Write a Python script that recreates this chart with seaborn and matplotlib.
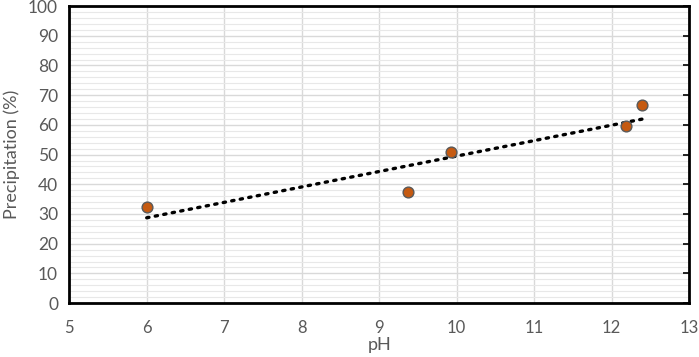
import numpy as np
import pandas as pd
import matplotlib
matplotlib.use("Agg")
import matplotlib.pyplot as plt
import seaborn as sns
from matplotlib.ticker import MultipleLocator

# data
ph = [6.0, 9.37, 9.93, 12.19, 12.39]
precip = [32.3, 37.3, 50.9, 59.6, 66.8]

df = pd.DataFrame({"pH": ph, "Precipitation (%)": precip})

sns.set_style("white")
plt.rcParams["font.family"] = ["Lato", "DejaVu Sans"]

fig = plt.figure(figsize=(6.99, 3.57), dpi=100)
ax = fig.add_axes([0.099, 0.151, 0.887, 0.832])

# linear trendline (dotted)
sns.regplot(data=df, x="pH", y="Precipitation (%)", ax=ax, ci=None, scatter=False,
            line_kws=dict(color="black", lw=2.4, linestyle=(0, (0.7, 1.9)),
                          dash_capstyle="round", zorder=3))
sns.scatterplot(data=df, x="pH", y="Precipitation (%)", ax=ax, s=60,
                color="#C55A11", edgecolor="#595959", linewidth=1.0, zorder=4)

ax.set_xlim(5, 13)
ax.set_ylim(0, 100)
ax.xaxis.set_major_locator(MultipleLocator(1))
ax.yaxis.set_major_locator(MultipleLocator(10))
ax.yaxis.set_minor_locator(MultipleLocator(2))

ax.grid(which="major", color="#d9d9d9", lw=1.0, zorder=0)
ax.grid(which="minor", axis="y", color="#e8e8e8", lw=0.8, zorder=0)
ax.set_axisbelow(True)

for s in ax.spines.values():
    s.set_visible(True)
    s.set_color("black")
    s.set_linewidth(2.0)

ax.tick_params(axis="x", which="major", direction="in", length=4, width=1.2,
               color="black", labelsize=12, labelcolor="#595959", pad=12)
ax.tick_params(axis="y", which="major", direction="in", length=4, width=1.2,
               left=False, right=True, color="black",
               labelsize=12.5, labelcolor="#595959", pad=8)
ax.tick_params(axis="y", which="minor", left=False, right=False)

ax.set_xlabel("pH", fontsize=13, color="#595959", labelpad=1)
ax.set_ylabel("Precipitation (%)", fontsize=13, color="#595959", labelpad=6)

fig.savefig("out.png", dpi=100)
